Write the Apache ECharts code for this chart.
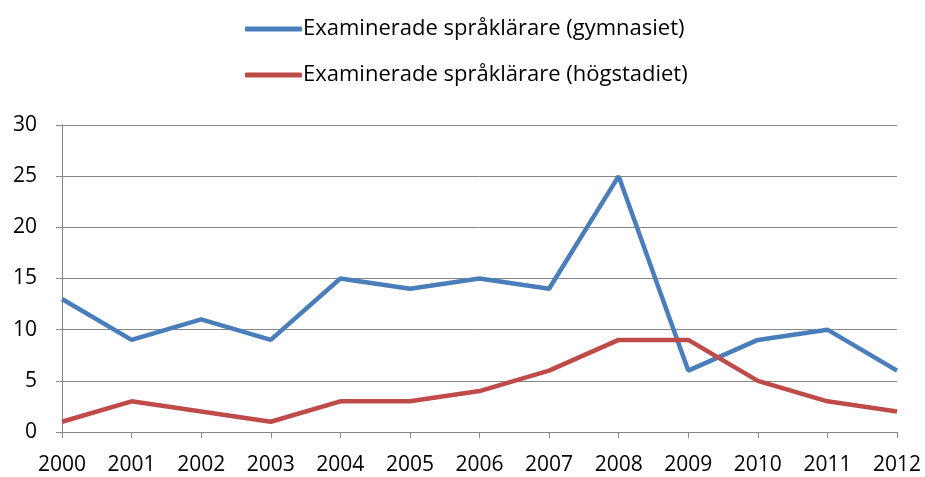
<!DOCTYPE html>
<html>
<head>
<meta charset="utf-8">
<script src="https://cdn.jsdelivr.net/npm/echarts@6/dist/echarts.min.js"></script>
<style>
  html, body { margin: 0; padding: 0; background: #fff; }
  #main { width: 925px; height: 477px; }
</style>
</head>
<body>
<div id="main"></div>
<script>
var years = ["2000", "2001", "2002", "2003", "2004", "2005", "2006", "2007", "2008", "2009", "2010", "2011", "2012"];
var gymnasiet = [13, 9, 11, 9, 15, 14, 15, 14, 25, 6, 9, 10, 6];
var hogstadiet = [1, 3, 2, 1, 3, 3, 4, 6, 9, 9, 5, 3, 2];
var seriesNames = ["Examinerade språklärare (gymnasiet)", "Examinerade språklärare (högstadiet)"];

var chart = echarts.init(document.getElementById("main"));
var fontFam = "'Open Sans', sans-serif";

chart.setOption({
  animation: false,
  textStyle: { fontFamily: fontFam },
  legend: {
    orient: "vertical",
    left: 240,
    top: 13,
    itemWidth: 57,
    itemHeight: 5,
    itemGap: 24,
    icon: "roundRect",
    textStyle: { fontSize: 22, color: "#000", fontFamily: fontFam, padding: [0, 0, 0, -4] },
    data: seriesNames
  },
  grid: { left: 62, right: 28, top: 125, bottom: 45 },
  xAxis: {
    type: "category",
    boundaryGap: false,
    data: years,
    axisLine: { lineStyle: { color: "#868686", width: 1 } },
    axisTick: { show: true, length: 6, lineStyle: { color: "#868686" } },
    axisLabel: { fontSize: 21, color: "#000", margin: 23 },
    splitLine: { show: false }
  },
  yAxis: {
    type: "value",
    min: 0,
    max: 30,
    interval: 5,
    axisLine: { show: true, lineStyle: { color: "#868686", width: 1 } },
    axisTick: { show: true, length: 6, lineStyle: { color: "#868686" } },
    axisLabel: { fontSize: 21, color: "#000", margin: 25 },
    splitLine: { show: true, lineStyle: { color: "#868686", width: 1 } }
  },
  series: [
    {
      name: seriesNames[0],
      type: "line",
      data: gymnasiet,
      showSymbol: false,
      symbol: "none",
      lineStyle: { color: "#4A7EBB", width: 4.5 },
      itemStyle: { color: "#4A7EBB" }
    },
    {
      name: seriesNames[1],
      type: "line",
      data: hogstadiet,
      showSymbol: false,
      symbol: "none",
      lineStyle: { color: "#BE4B48", width: 4.5 },
      itemStyle: { color: "#BE4B48" }
    }
  ]
});
</script>
</body>
</html>
